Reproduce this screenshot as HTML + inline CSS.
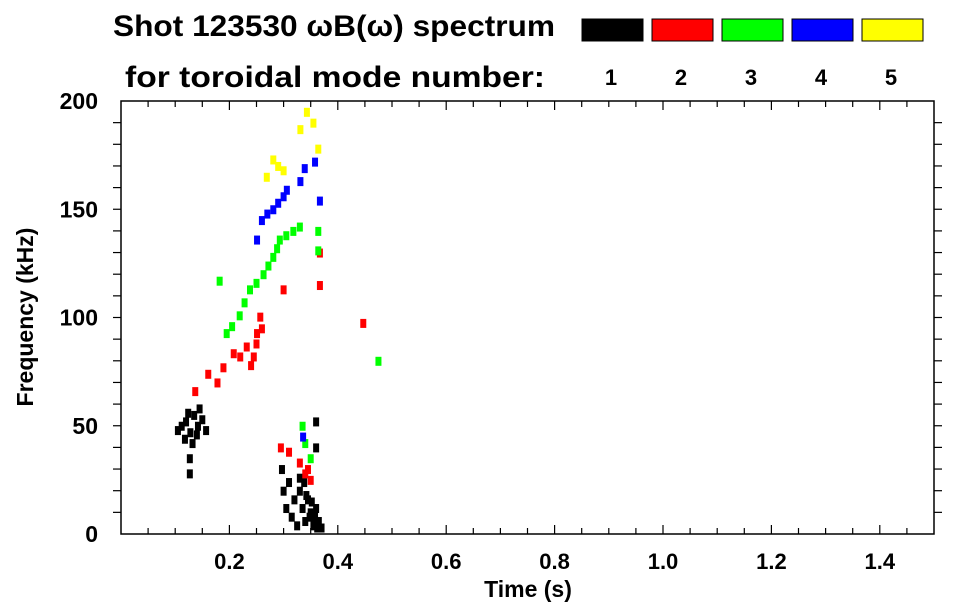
<!DOCTYPE html>
<html><head><meta charset="utf-8"><style>
body{margin:0;background:#fff;}
svg{display:block;font-family:"Liberation Sans",Arial,sans-serif;font-weight:bold;}
</style></head><body>
<svg id="chart" width="963" height="615" viewBox="0 0 963 615">
<text x="113" y="36" font-size="30" textLength="442" lengthAdjust="spacingAndGlyphs">Shot 123530 ωB(ω) spectrum</text>
<text x="125" y="87" font-size="30" textLength="420" lengthAdjust="spacingAndGlyphs">for toroidal mode number:</text>
<g id="legend"></g>
<g id="plot"></g>
<g id="axes"></g>
<text x="528" y="597" font-size="23" text-anchor="middle">Time (s)</text>
<text transform="translate(33,317) rotate(-90)" font-size="23" text-anchor="middle">Frequency (kHz)</text>
</svg>
<script>
const modes=[1,2,3,4,5];
const modeColors=["#000000","#ff0000","#00ff00","#0000ff","#ffff00"];
const xTicks=[0.2,0.4,0.6,0.8,1.0,1.2,1.4];
const xTickLabels=["0.2","0.4","0.6","0.8","1.0","1.2","1.4"];
const yTicks=[0,50,100,150,200];
const yTickLabels=["0","50","100","150","200"];
// spectral features: [time s, freq kHz]
const mode1Points=[[0.105,48],[0.112,50],[0.12,52],[0.128,47],[0.135,55],[0.142,50],[0.15,53],[0.157,48],[0.118,44],[0.132,42],[0.145,58],[0.127,35],[0.127,28],[0.14,46],[0.124,56],[0.297,30],[0.3,20],[0.305,12],[0.31,24],[0.315,8],[0.32,16],[0.325,4],[0.33,20],[0.335,12],[0.34,6],[0.345,16],[0.35,10],[0.355,4],[0.36,12],[0.365,6],[0.37,3],[0.338,24],[0.342,18],[0.352,15],[0.348,8],[0.358,8],[0.33,26],[0.362,3],[0.36,40],[0.36,52]];
const mode2Points=[[0.137,66],[0.161,74],[0.178,70],[0.189,77],[0.208,83.5],[0.22,82],[0.232,86.6],[0.245,82],[0.251,92.8],[0.257,100.4],[0.25,88],[0.24,78],[0.26,95],[0.3,113],[0.295,40],[0.31,38],[0.33,33],[0.34,28],[0.35,25],[0.345,30],[0.367,115],[0.367,130],[0.447,97.5]];
const mode3Points=[[0.195,92.8],[0.205,96],[0.219,101],[0.228,107],[0.238,113],[0.25,116],[0.263,120],[0.272,124],[0.281,128],[0.288,132],[0.293,136],[0.305,138],[0.318,140],[0.33,142],[0.364,131],[0.364,140],[0.335,50],[0.34,42],[0.35,35],[0.182,117],[0.475,80]];
const mode4Points=[[0.251,136],[0.26,145],[0.27,148],[0.281,150],[0.29,153],[0.3,156],[0.306,159],[0.331,163],[0.339,169],[0.358,172],[0.367,154],[0.336,45]];
const mode5Points=[[0.269,165],[0.281,173],[0.29,170],[0.3,168],[0.331,187],[0.343,195],[0.355,190],[0.364,178]];
const allPoints=[mode1Points,mode2Points,mode3Points,mode4Points,mode5Points];

const NS="http://www.w3.org/2000/svg";
const L=121,R=934,T=101,B=534;
const xMin=0,xMax=1.5,yMin=0,yMax=200;
const xs=v=>L+(v-xMin)/(xMax-xMin)*(R-L);
const ys=v=>B-(v-yMin)/(yMax-yMin)*(B-T);
function mk(tag,attrs,parent){const e=document.createElementNS(NS,tag);for(const k in attrs)e.setAttribute(k,attrs[k]);parent.appendChild(e);return e;}

const lg=document.getElementById('legend');
modes.forEach((m,i)=>{
  const x=582+i*70;
  const r=mk('rect',{x:x,y:19,width:61,height:22,fill:modeColors[i],stroke:'#000','stroke-width':1},lg);
  
  
  const t=mk('text',{x:x+29,y:85,'font-size':22,'text-anchor':'middle'},lg);
  t.textContent=m;
  
  
});

const pg=document.getElementById('plot');
allPoints.forEach((pts,i)=>{
  pts.forEach(p=>{
    const r=mk('rect',{x:xs(p[0])-3,y:ys(p[1])-4,width:6,height:9,fill:modeColors[i]},pg);
    
    
  });
});

const ag=document.getElementById('axes');
const fr=mk('rect',{x:L,y:T,width:R-L,height:B-T,fill:'none',stroke:'#000','stroke-width':1.5},ag);


for(let v=0.05;v<xMax-0.001;v+=0.05){
  const x=xs(v);const major=Math.abs(v*5-Math.round(v*5))<1e-6;const len=major?9:6;
  mk('line',{x1:x,y1:B,x2:x,y2:B-len,stroke:'#000','stroke-width':1.2},ag);
  mk('line',{x1:x,y1:T,x2:x,y2:T+len,stroke:'#000','stroke-width':1.2},ag);
}
for(let v=10;v<yMax;v+=10){
  const y=ys(v);
  mk('line',{x1:L,y1:y,x2:L-8,y2:y,stroke:'#000','stroke-width':1.2},ag);
  mk('line',{x1:R,y1:y,x2:R+8,y2:y,stroke:'#000','stroke-width':1.2},ag);
}
xTicks.forEach((v,i)=>{
  const t=mk('text',{x:xs(v),y:569,'font-size':22,'text-anchor':'middle'},ag);
  t.textContent=xTickLabels[i];
  
  
});
yTicks.forEach((v,i)=>{
  const t=mk('text',{x:98,y:ys(v)+8,'font-size':23,'text-anchor':'end'},ag);
  t.textContent=yTickLabels[i];
  
  
});
</script>
</body></html>
